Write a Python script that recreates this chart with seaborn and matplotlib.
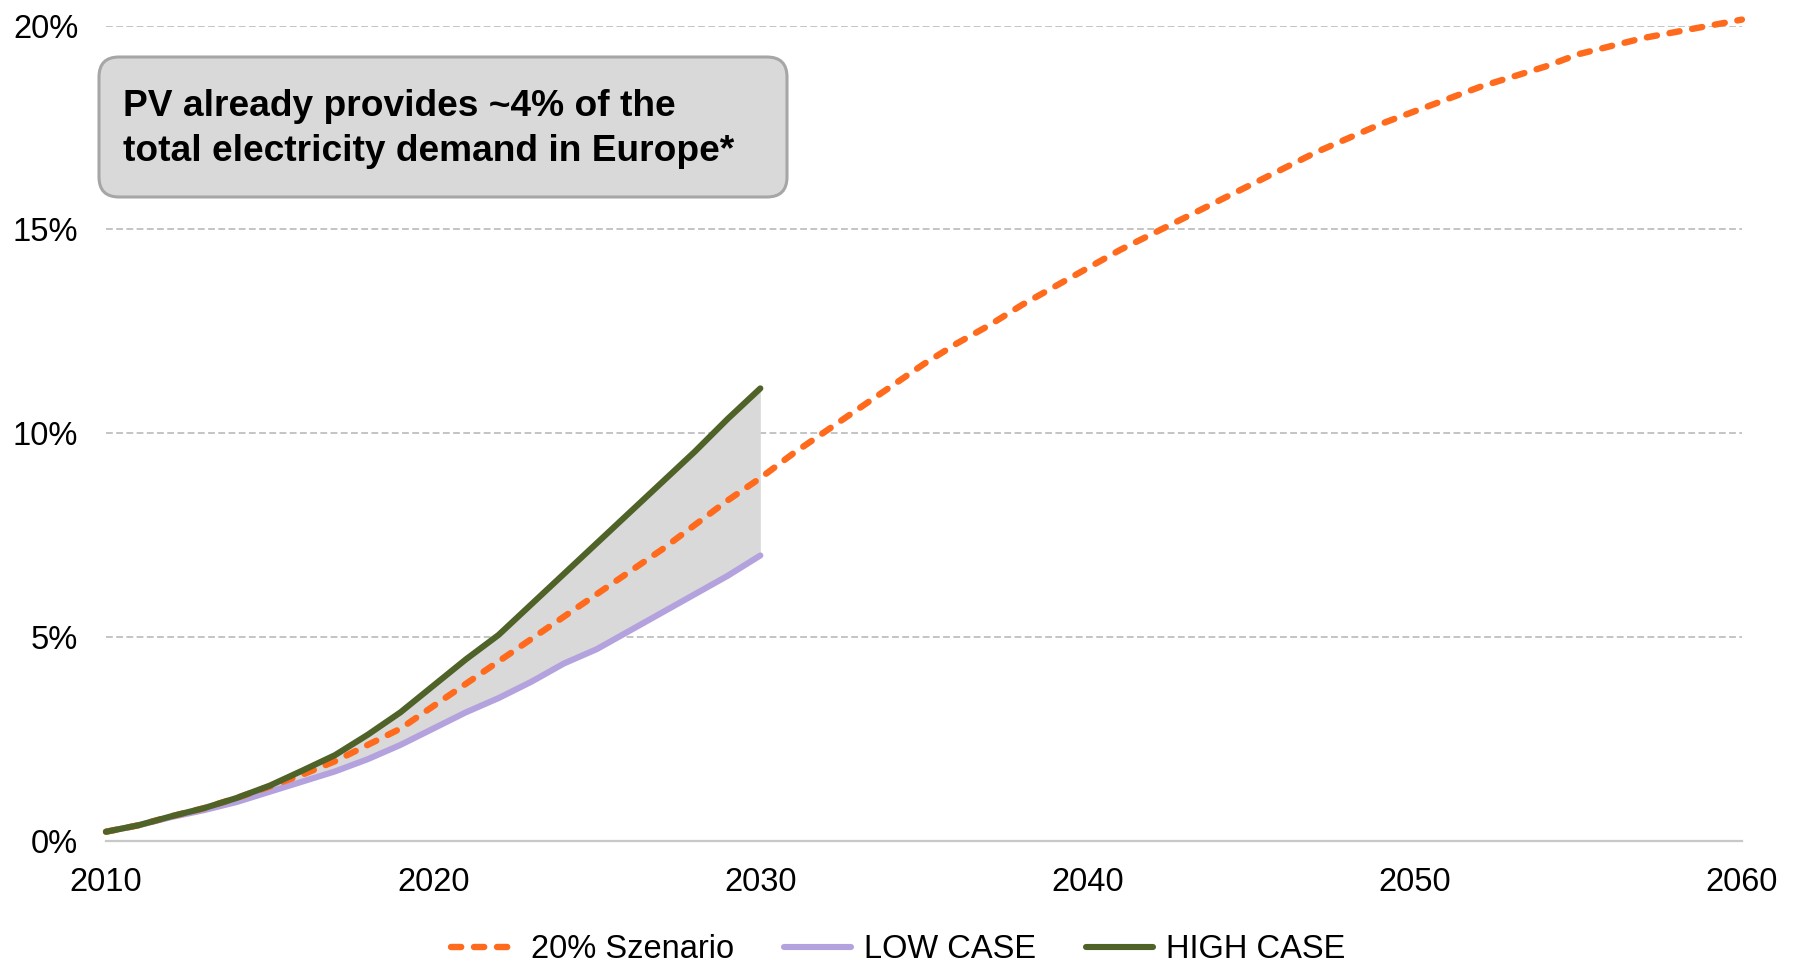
import numpy as np
import pandas as pd
import seaborn as sns
import matplotlib.pyplot as plt
from matplotlib.patches import FancyBboxPatch
from matplotlib.transforms import IdentityTransform
from matplotlib.ticker import FuncFormatter

# PV share of total electricity demand in Europe (%)
years_case = list(range(2010, 2031))
low_case = [0.22, 0.38, 0.58, 0.75, 0.95, 1.2, 1.45, 1.7, 2.0, 2.35, 2.75,
            3.15, 3.5, 3.9, 4.35, 4.7, 5.15, 5.6, 6.05, 6.5, 7.0]
high_case = [0.22, 0.38, 0.6, 0.8, 1.05, 1.35, 1.72, 2.1, 2.6, 3.15, 3.8,
             4.45, 5.05, 5.8, 6.55, 7.3, 8.05, 8.8, 9.55, 10.35, 11.1]

years_scen = list(range(2010, 2061))
scenario = [0.22, 0.38, 0.6, 0.8, 1.05, 1.33, 1.62, 1.95, 2.35, 2.75, 3.3,
            3.85, 4.4, 4.95, 5.5, 6.05, 6.6, 7.15, 7.75, 8.35, 8.9,
            9.5, 10.05, 10.6, 11.15, 11.7, 12.2, 12.65, 13.15, 13.6, 14.05,
            14.5, 14.9, 15.3, 15.7, 16.1, 16.5, 16.9, 17.25, 17.6, 17.9,
            18.2, 18.5, 18.75, 19.0, 19.3, 19.5, 19.7, 19.85, 20.0, 20.15]

x_ticks = [2010, 2020, 2030, 2040, 2050, 2060]
y_ticks = [0, 5, 10, 15, 20]
labels = ["20% Szenario", "LOW CASE", "HIGH CASE"]
note = "PV already provides ~4% of the\ntotal electricity demand in Europe*"

ORANGE = "#ff6a1c"
LAVENDER = "#b3a2de"
GREEN = "#4f6228"
FILL = "#d9d9d9"

sns.set_theme(style="white")
plt.rcParams["font.family"] = ["Liberation Sans", "DejaVu Sans"]
plt.rcParams["text.color"] = "black"

fig = plt.figure(figsize=(17.93, 9.63), dpi=100)
ax = fig.add_axes([0.0591, 0.127, 0.9124, 0.8463])

df_case = pd.DataFrame({"year": years_case, "low": low_case, "high": high_case})
df_scen = pd.DataFrame({"year": years_scen, "value": scenario})

# range between low and high case
ax.fill_between(df_case["year"], df_case["low"], df_case["high"],
                color=FILL, lw=0, zorder=1)

sns.lineplot(data=df_case, x="year", y="low", ax=ax, color=LAVENDER,
             linewidth=4.4, solid_capstyle="round", zorder=3, clip_on=False)
sns.lineplot(data=df_scen, x="year", y="value", ax=ax, color=ORANGE,
             linewidth=4.6, linestyle=(0, (1.6, 2.0)), dash_capstyle="round",
             zorder=4, clip_on=False)
sns.lineplot(data=df_case, x="year", y="high", ax=ax, color=GREEN,
             linewidth=4.4, solid_capstyle="round", zorder=5, clip_on=False)

ax.set_xlim(2010, 2060)
ax.set_ylim(0, 20)
ax.set_xticks(x_ticks)
ax.set_yticks(y_ticks)
ax.yaxis.set_major_formatter(FuncFormatter(lambda v, p: f"{v:.0f}%"))
ax.set_xlabel("")
ax.set_ylabel("")
ax.tick_params(axis="x", length=0, pad=19, labelsize=23.5, colors="black")
ax.tick_params(axis="y", length=0, pad=20, labelsize=23.5, colors="black")

ax.set_axisbelow(True)
ax.yaxis.grid(True, color="#c4c4c4", lw=1.4, linestyle=(0, (3.5, 1.75)))
ax.xaxis.grid(False)
for side in ["left", "right", "top"]:
    ax.spines[side].set_visible(False)
ax.spines["bottom"].set_color("#c8c8c8")
ax.spines["bottom"].set_linewidth(1.6)
ax.spines["bottom"].set_zorder(2)

# call-out box
box = FancyBboxPatch((99, 963 - 197), 688, 140,
                     boxstyle="round,pad=0,rounding_size=20",
                     transform=IdentityTransform(), fc=FILL, ec="#a6a6a6",
                     lw=2.2, zorder=10)
fig.patches.append(box)
fig.text(123.3 / 1793, 0.866, note, fontsize=26.7, fontweight="bold",
         color="black", ha="left", va="center", linespacing=1.36, zorder=11)

lines = ax.get_lines()
handles = [lines[1], lines[0], lines[2]]
leg = fig.legend(handles, labels, loc="center", bbox_to_anchor=(0.501, 0.0135),
                 ncol=3, frameon=False, fontsize=23.5, handlelength=2.04,
                 handletextpad=0.41, columnspacing=1.53)
for t in leg.get_texts():
    t.set_color("black")

fig.savefig("out.png", dpi=100)
